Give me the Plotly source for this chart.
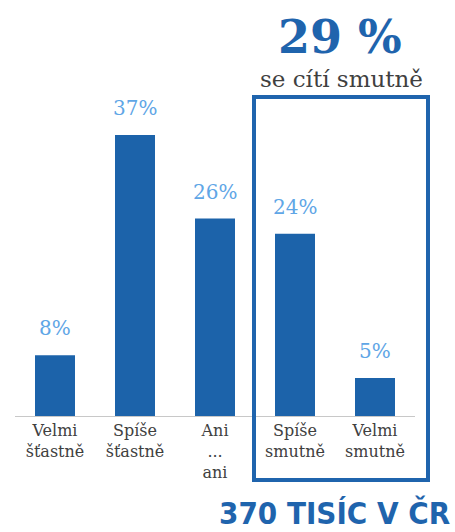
import plotly.graph_objects as go

categories = ["Velmi<br>šťastně", "Spíše<br>šťastně", "Ani<br>...<br>ani", "Spíše<br>smutně", "Velmi<br>smutně"]
values = [8, 37, 26, 24, 5]
value_labels = ["8%", "37%", "26%", "24%", "5%"]

BAR = "#1c63aa"
LABEL = "#5fa6e6"
GREY = "#404040"
SERIF = "DejaVu Serif, Liberation Serif, serif"

fig = go.Figure(
    go.Bar(
        x=list(range(len(values))),
        y=values,
        width=0.5,
        marker=dict(color=BAR, line=dict(width=0)),
        hoverinfo="skip",
    )
)

# value labels above each bar
for i, (v, t) in enumerate(zip(values, value_labels)):
    fig.add_annotation(
        x=i, y=v, text=t, showarrow=False, yanchor="bottom", yshift=13,
        font=dict(family=SERIF, size=20, color=LABEL),
    )

# frame around the "sad" group
fig.add_shape(
    type="rect", xref="paper", yref="paper",
    x0=0.5975, x1=1.0325, y0=-0.2025, y1=1.0095,
    line=dict(color="#1f64ad", width=4),
)

fig.add_annotation(
    xref="paper", yref="paper", x=0.8125, y=1.198, text="<b>29 %</b>",
    showarrow=False, xanchor="center", yanchor="middle",
    font=dict(family=SERIF, size=46, color="#1f64ad"),
)
fig.add_annotation(
    xref="paper", yref="paper", x=0.815, y=1.066, text="se cítí smutně",
    showarrow=False, xanchor="center", yanchor="middle",
    font=dict(family=SERIF, size=23, color=GREY),
)
fig.add_annotation(
    xref="paper", yref="paper", x=1.0925, y=-0.307, text="<b>370 TISÍC V ČR</b>",
    showarrow=False, xanchor="right", yanchor="middle",
    font=dict(family="Liberation Sans Narrow, DejaVu Sans Condensed, sans-serif", size=31, color="#1f64ad"),
)

fig.update_xaxes(
    tickvals=list(range(len(values))), ticktext=categories,
    range=[-0.5, 4.5], showgrid=False, zeroline=False,
    showline=True, linecolor="#c8c8c8", linewidth=1,
    ticks="", tickfont=dict(family=SERIF, size=16, color=GREY),
)
fig.update_yaxes(range=[0, 41.6], visible=False, showgrid=False)

fig.update_layout(
    width=455, height=532,
    margin=dict(l=15, r=40, t=100, b=116),
    paper_bgcolor="white", plot_bgcolor="white",
    showlegend=False, bargap=0.5,
)

fig.write_html("out.html")
